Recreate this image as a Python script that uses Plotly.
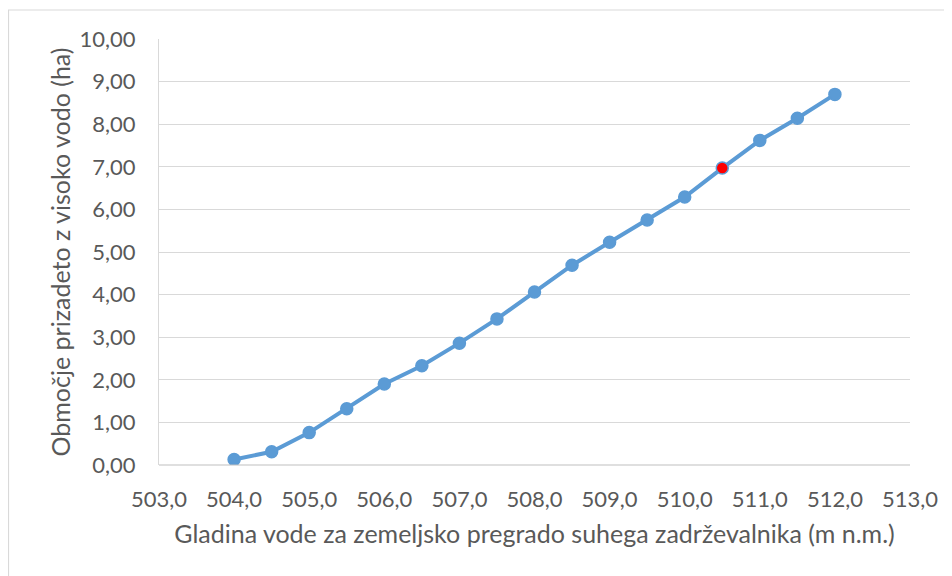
import plotly.graph_objects as go

water_level = [504.0, 504.5, 505.0, 505.5, 506.0, 506.5, 507.0, 507.5, 508.0,
               508.5, 509.0, 509.5, 510.0, 510.5, 511.0, 511.5, 512.0]
area_ha = [0.13, 0.31, 0.76, 1.32, 1.90, 2.33, 2.86, 3.43, 4.06,
           4.69, 5.23, 5.75, 6.29, 6.97, 7.62, 8.14, 8.70]
highlight_index = 13

x_ticks = [503 + i for i in range(11)]
x_tick_text = [f"{v:.1f}".replace(".", ",") for v in x_ticks]
y_ticks = list(range(11))
y_tick_text = [f"{v:.2f}".replace(".", ",") for v in y_ticks]

blue = "#5B9BD5"
marker_colors = [("#FF0000" if i == highlight_index else blue) for i in range(len(water_level))]

fig = go.Figure()
fig.add_trace(go.Scatter(
    x=water_level, y=area_ha, mode="lines+markers",
    line=dict(color=blue, width=4),
    marker=dict(size=12, color=marker_colors, line=dict(color=blue, width=1.5)),
    showlegend=False, hoverinfo="x+y",
))

# page body has an 8px margin, so the figure is drawn 8px smaller and offset
W, H = 944, 568
l, r, t, b = 151, 42, 31, 111
pw, ph = W - l - r, H - t - b

def px_to_paper_x(px):
    return (px - l) / pw

def px_to_paper_y(py):
    return (H - b - py) / ph

font_family = "Lato, 'Open Sans', sans-serif"
fig.update_layout(
    width=W, height=H,
    margin=dict(l=l, r=r, t=t, b=b, autoexpand=False),
    paper_bgcolor="white", plot_bgcolor="white",
    font=dict(family=font_family, color="#595959"),
    xaxis=dict(
        range=[503, 513], tickvals=x_ticks, ticktext=x_tick_text,
        showgrid=False, zeroline=False, showline=False, automargin=False,
        ticks="", tickfont=dict(size=22, color="#595959"), ticklabelstandoff=19,
        title=dict(text="Gladina vode za zemeljsko pregrado suhega zadrževalnika (m n.m.)",
                   font=dict(size=25, color="#595959"), standoff=14),
    ),
    yaxis=dict(
        range=[0, 10], tickvals=y_ticks, ticktext=y_tick_text,
        showgrid=True, gridcolor="#D9D9D9", gridwidth=1, automargin=False,
        zeroline=False, showline=True, linecolor="#D9D9D9", linewidth=1,
        ticks="", tickfont=dict(size=22, color="#595959"), ticklabelstandoff=18,
        title=dict(text="Območje prizadeto z visoko vodo (ha)",
                   font=dict(size=25, color="#595959"), standoff=1),
    ),
    shapes=[
        dict(type="line", xref="paper", yref="paper", x0=0, x1=1, y0=0, y1=0,
             line=dict(color="#BFBFBF", width=1.2)),
        dict(type="rect", xref="paper", yref="paper",
             x0=px_to_paper_x(0.5), x1=px_to_paper_x(W + 20),
             y0=px_to_paper_y(H + 20), y1=px_to_paper_y(2),
             line=dict(color="#D9D9D9", width=1.2), fillcolor="rgba(0,0,0,0)", layer="below"),
    ],
)

fig.write_html("out.html")
